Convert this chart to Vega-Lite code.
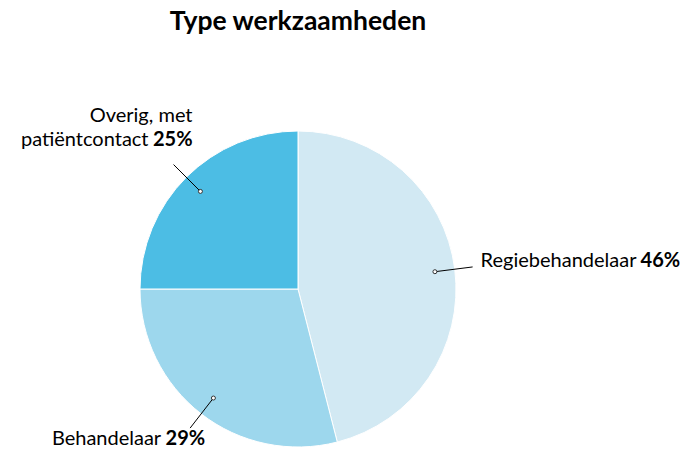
{
  "$schema": "https://vega.github.io/schema/vega-lite/v6.json",
  "width": 596,
  "height": 328,
  "autosize": {"type": "none"},
  "padding": {"top": 125, "left": 0, "right": 92, "bottom": 0},
  "background": "white",
  "title": {"text": "Type werkzaamheden", "font": "Lato", "fontSize": 26.5, "fontWeight": "bold", "color": "#000000", "anchor": "middle", "offset": 70},
  "config": {"view": {"stroke": null}, "font": "Lato"},
  "data": {"values": [
    {"categorie": "Regiebehandelaar", "waarde": 46, "volgorde": 1},
    {"categorie": "Behandelaar", "waarde": 29, "volgorde": 2},
    {"categorie": "Overig, met patiëntcontact", "waarde": 25, "volgorde": 3}
  ]},
  "transform": [
    {"joinaggregate": [{"op": "sum", "field": "waarde", "as": "totaal"}]},
    {"window": [{"op": "sum", "field": "waarde", "as": "cum"}], "sort": [{"field": "volgorde"}], "frame": [null, 0]},
    {"calculate": "(datum.cum - datum.waarde / 2) / datum.totaal * 2 * PI", "as": "mid"},
    {"calculate": "138 * sin(datum.mid)", "as": "px"},
    {"calculate": "138 * cos(datum.mid)", "as": "py"},
    {"calculate": "176 * sin(datum.mid)", "as": "ex"},
    {"calculate": "176 * cos(datum.mid)", "as": "ey"},
    {"calculate": "datum.waarde + '%'", "as": "pct"}
  ],
  "layer": [
    {
      "mark": {"type": "arc", "outerRadius": 158, "stroke": "white", "strokeWidth": 1},
      "encoding": {
        "theta": {"field": "waarde", "type": "quantitative", "stack": true},
        "order": {"field": "volgorde", "type": "quantitative"},
        "color": {"field": "categorie", "type": "nominal", "legend": null,
          "scale": {"domain": ["Regiebehandelaar", "Behandelaar", "Overig, met patiëntcontact"], "range": ["#d2e9f3", "#9dd7ed", "#4cbde4"]}}
      }
    },
    {
      "mark": {"type": "rule", "color": "#000000", "strokeWidth": 1},
      "encoding": {
        "x": {"field": "px", "type": "quantitative", "scale": {"domain": [-298, 298], "nice": false, "zero": false}, "axis": null},
        "y": {"field": "py", "type": "quantitative", "scale": {"domain": [-164, 164], "nice": false, "zero": false}, "axis": null},
        "x2": {"field": "ex"},
        "y2": {"field": "ey"}
      }
    },
    {
      "mark": {"type": "point", "filled": true, "fill": "white", "stroke": "#333333", "strokeWidth": 1, "size": 16, "opacity": 1},
      "encoding": {
        "x": {"field": "px", "type": "quantitative", "scale": {"domain": [-298, 298], "nice": false, "zero": false}, "axis": null},
        "y": {"field": "py", "type": "quantitative", "scale": {"domain": [-164, 164], "nice": false, "zero": false}, "axis": null}
      }
    },
    {
      "transform": [{"filter": "datum.volgorde == 1"}],
      "mark": {"type": "text", "align": "left", "baseline": "alphabetic", "dx": 8, "dy": 0, "fontSize": 20, "font": "Lato", "color": "#000000"},
      "encoding": {
        "x": {"field": "ex", "type": "quantitative", "scale": {"domain": [-298, 298], "nice": false, "zero": false}, "axis": null},
        "y": {"field": "ey", "type": "quantitative", "scale": {"domain": [-164, 164], "nice": false, "zero": false}, "axis": null},
        "text": {"field": "categorie"}
      }
    },
    {
      "transform": [{"filter": "datum.volgorde == 1"}],
      "mark": {"type": "text", "align": "left", "baseline": "alphabetic", "dx": 168, "dy": 0, "fontSize": 20, "font": "Lato", "fontWeight": "bold", "color": "#000000"},
      "encoding": {
        "x": {"field": "ex", "type": "quantitative", "scale": {"domain": [-298, 298], "nice": false, "zero": false}, "axis": null},
        "y": {"field": "ey", "type": "quantitative", "scale": {"domain": [-164, 164], "nice": false, "zero": false}, "axis": null},
        "text": {"field": "pct"}
      }
    },
    {
      "transform": [{"filter": "datum.volgorde == 2"}],
      "mark": {"type": "text", "align": "right", "baseline": "alphabetic", "dx": -29, "dy": 17, "fontSize": 20, "font": "Lato", "color": "#000000"},
      "encoding": {
        "x": {"field": "ex", "type": "quantitative", "scale": {"domain": [-298, 298], "nice": false, "zero": false}, "axis": null},
        "y": {"field": "ey", "type": "quantitative", "scale": {"domain": [-164, 164], "nice": false, "zero": false}, "axis": null},
        "text": {"field": "categorie"}
      }
    },
    {
      "transform": [{"filter": "datum.volgorde == 2"}],
      "mark": {"type": "text", "align": "right", "baseline": "alphabetic", "dx": 15, "dy": 17, "fontSize": 20, "font": "Lato", "fontWeight": "bold", "color": "#000000"},
      "encoding": {
        "x": {"field": "ex", "type": "quantitative", "scale": {"domain": [-298, 298], "nice": false, "zero": false}, "axis": null},
        "y": {"field": "ey", "type": "quantitative", "scale": {"domain": [-164, 164], "nice": false, "zero": false}, "axis": null},
        "text": {"field": "pct"}
      }
    },
    {
      "transform": [{"filter": "datum.volgorde == 3"}, {"calculate": "'Overig, met'", "as": "regel1"}],
      "mark": {"type": "text", "align": "right", "baseline": "alphabetic", "dx": 19, "dy": -43, "fontSize": 20, "font": "Lato", "color": "#000000"},
      "encoding": {
        "x": {"field": "ex", "type": "quantitative", "scale": {"domain": [-298, 298], "nice": false, "zero": false}, "axis": null},
        "y": {"field": "ey", "type": "quantitative", "scale": {"domain": [-164, 164], "nice": false, "zero": false}, "axis": null},
        "text": {"field": "regel1"}
      }
    },
    {
      "transform": [{"filter": "datum.volgorde == 3"}, {"calculate": "'patiëntcontact'", "as": "regel2"}],
      "mark": {"type": "text", "align": "right", "baseline": "alphabetic", "dx": -25, "dy": -19, "fontSize": 20, "font": "Lato", "color": "#000000"},
      "encoding": {
        "x": {"field": "ex", "type": "quantitative", "scale": {"domain": [-298, 298], "nice": false, "zero": false}, "axis": null},
        "y": {"field": "ey", "type": "quantitative", "scale": {"domain": [-164, 164], "nice": false, "zero": false}, "axis": null},
        "text": {"field": "regel2"}
      }
    },
    {
      "transform": [{"filter": "datum.volgorde == 3"}],
      "mark": {"type": "text", "align": "right", "baseline": "alphabetic", "dx": 19, "dy": -19, "fontSize": 20, "font": "Lato", "fontWeight": "bold", "color": "#000000"},
      "encoding": {
        "x": {"field": "ex", "type": "quantitative", "scale": {"domain": [-298, 298], "nice": false, "zero": false}, "axis": null},
        "y": {"field": "ey", "type": "quantitative", "scale": {"domain": [-164, 164], "nice": false, "zero": false}, "axis": null},
        "text": {"field": "pct"}
      }
    }
  ]
}
